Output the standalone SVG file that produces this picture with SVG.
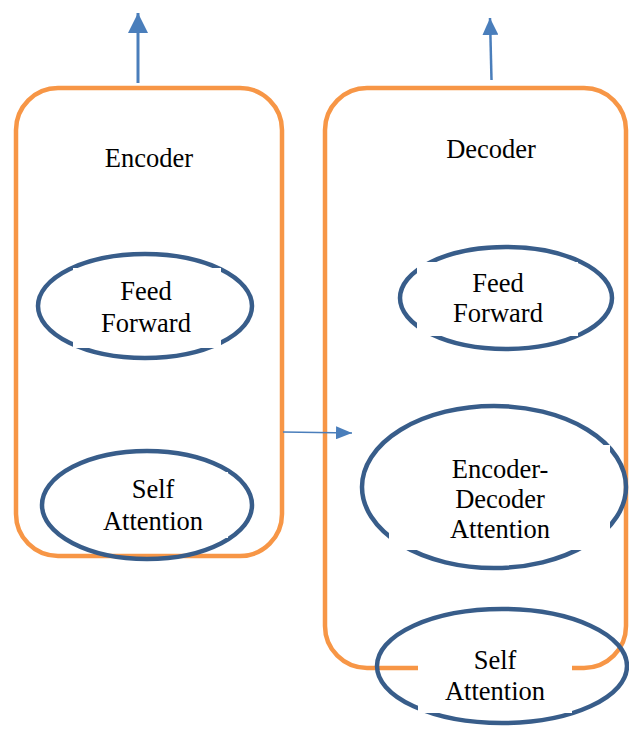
<svg xmlns="http://www.w3.org/2000/svg" width="629" height="729" viewBox="0 0 629 729">
<defs>
<style>
.box{fill:none;stroke:#F79646;stroke-width:4.5}
.ell{fill:none;stroke:#385D8A;stroke-width:4.5}
.mask{fill:#FFFFFF}
.lbl{font-family:"Liberation Serif","Times New Roman",serif;font-size:26.5px;fill:#000;text-anchor:middle}
.arr{stroke:#4A7EBB;fill:none}
</style>
<marker id="ahBig" viewBox="0 0 10 10" refX="10" refY="5" markerWidth="20" markerHeight="20" markerUnits="userSpaceOnUse" orient="auto" preserveAspectRatio="none">
<path d="M0,0 L10,5 L0,10 Z" fill="#4A7EBB"/>
</marker>
<marker id="ahMid" viewBox="0 0 10 10" refX="10" refY="5" markerWidth="17" markerHeight="16" markerUnits="userSpaceOnUse" orient="auto" preserveAspectRatio="none">
<path d="M0,0 L10,5 L0,10 Z" fill="#4A7EBB"/>
</marker>
<marker id="ahSmall" viewBox="0 0 10 10" refX="10" refY="5" markerWidth="16" markerHeight="13" markerUnits="userSpaceOnUse" orient="auto" preserveAspectRatio="none">
<path d="M0,0 L10,5 L0,10 Z" fill="#4A7EBB"/>
</marker>
</defs>
<rect width="629" height="729" fill="#FFFFFF"/>
<g id="encoder">
<rect class="box" x="16" y="88" width="266" height="468" rx="42" ry="42"/>
<text class="lbl" x="149" y="167">Encoder</text>
</g>
<g id="decoder">
<rect class="box" x="325" y="88" width="301" height="580" rx="42" ry="42"/>
<text class="lbl" x="491" y="158">Decoder</text>
</g>
<g id="enc-feed-forward">
<ellipse class="ell" cx="145" cy="306" rx="107" ry="52"/>
<rect class="mask" x="73" y="268" width="148" height="80"/>
<text class="lbl" x="146" y="300">Feed</text>
<text class="lbl" x="146" y="332">Forward</text>
</g>
<g id="enc-self-attention">
<ellipse class="ell" cx="147" cy="505" rx="105" ry="54"/>
<rect class="mask" x="70" y="472" width="158" height="66"/>
<text class="lbl" x="153" y="498">Self</text>
<text class="lbl" x="153" y="530">Attention</text>
</g>
<g id="dec-feed-forward">
<ellipse class="ell" cx="506" cy="298" rx="106" ry="51"/>
<rect class="mask" x="417" y="262" width="161" height="74"/>
<text class="lbl" x="498" y="292">Feed</text>
<text class="lbl" x="498" y="322">Forward</text>
</g>
<g id="enc-dec-attention">
<ellipse class="ell" cx="494" cy="487" rx="132" ry="81"/>
<rect class="mask" x="389" y="445" width="221" height="105"/>
<text class="lbl" x="500" y="478">Encoder-</text>
<text class="lbl" x="500" y="508">Decoder</text>
<text class="lbl" x="500" y="538">Attention</text>
</g>
<g id="dec-self-attention">
<ellipse class="ell" cx="502" cy="666" rx="125" ry="57"/>
<rect class="mask" x="418" y="640" width="154" height="73"/>
<text class="lbl" x="495" y="669">Self</text>
<text class="lbl" x="495" y="700">Attention</text>
</g>
<g id="connectors">
<line class="arr" x1="138" y1="83" x2="138" y2="13" stroke-width="3" marker-end="url(#ahBig)"/>
<line class="arr" x1="491.5" y1="80" x2="490" y2="18" stroke-width="2.5" marker-end="url(#ahMid)"/>
<line class="arr" x1="283" y1="432" x2="352" y2="433" stroke-width="1.5" marker-end="url(#ahSmall)"/>
</g>
</svg>
